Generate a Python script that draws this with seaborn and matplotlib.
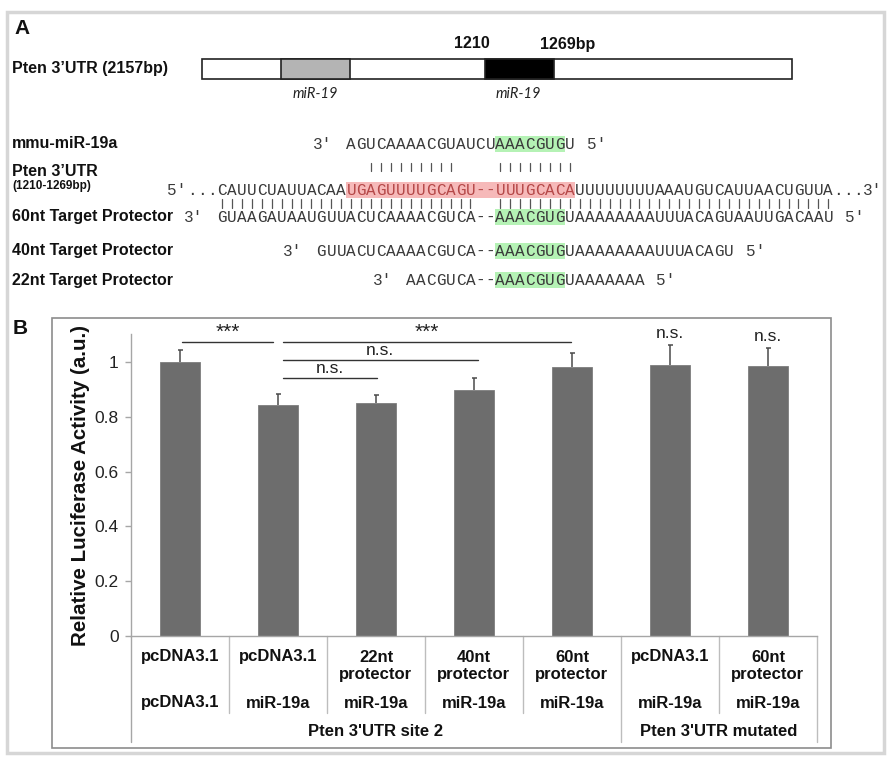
import numpy as np
import pandas as pd
import matplotlib
matplotlib.use("Agg")
import matplotlib.pyplot as plt
import matplotlib.transforms as mtransforms
from matplotlib.patches import Rectangle
import seaborn as sns

# ---------------- data ----------------
cond_ids = ["c1", "c2", "c3", "c4", "c5", "c6", "c7"]
row1_labels = ["pcDNA3.1", "pcDNA3.1", "22nt\nprotector", "40nt\nprotector",
               "60nt\nprotector", "pcDNA3.1", "60nt\nprotector"]
row2_labels = ["pcDNA3.1", "miR-19a", "miR-19a", "miR-19a", "miR-19a", "miR-19a", "miR-19a"]
group_labels = ["Pten 3'UTR site 2", "Pten 3'UTR mutated"]
group_sizes = [5, 2]
activity = [1.00, 0.844, 0.850, 0.897, 0.983, 0.989, 0.985]
activity_err = [0.045, 0.038, 0.029, 0.045, 0.051, 0.074, 0.067]
yticks = [0, 0.2, 0.4, 0.6, 0.8, 1.0]
ytick_labels = ["0", "0.2", "0.4", "0.6", "0.8", "1"]
# (from bar, to bar, label, line height)
comparisons = [(0.02, 0.95, "***", 1.074), (1.05, 3.99, "***", 1.074),
               (1.05, 3.04, "n.s.", 1.008), (1.05, 2.01, "n.s.", 0.942)]
single_marks = [(5, "n.s."), (6, "n.s.")]

# panel A
utr_label = "Pten 3\u2019UTR (2157bp)"
site_start, site_end = "1210", "1269bp"
site_name = "miR-19"
mir_name = "mmu-miR-19a"
mir_seq = "AGUCAAAACGUAUCUAAACGUGU"
pten_seq = "CAUUCUAUUACAAUGAGUUUUGCAGU--UUUGCACAUUUUUUUUAAAUGUCAUUAACUGUUA"
tp60_seq = "GUAAGAUAAUGUUACUCAAAACGUCA--AAACGUGUAAAAAAAAUUUACAGUAAUUGACAAU"
tp40_seq = "GUUACUCAAAACGUCA--AAACGUGUAAAAAAAAUUUACAGU"
tp22_seq = "AACGUCA--AAACGUGUAAAAAAA"
seed = "AAACGUG"
site_region = "UGAGUUUUGCAGU--UUUGCACA"
mir_pair_cols = list(range(15, 24)) + list(range(28, 36))
tp_pair_cols = list(range(0, 26)) + list(range(28, 62))

# ---------------- figure ----------------
sns.set_theme(style="white")
plt.rcParams["font.family"] = ["Liberation Sans", "DejaVu Sans"]

W, H = 892, 760
fig = plt.figure(figsize=(W / 100, H / 100), dpi=100)
fig.patch.set_facecolor("white")
ov = fig.add_axes([0, 0, 1, 1])
ov.set_xlim(0, W)
ov.set_ylim(H, 0)
ov.axis("off")

# frames
ov.add_patch(Rectangle((7, 12), 877, 741, fill=False, ec="#d6d6d6", lw=2.5))
ov.add_patch(Rectangle((52, 318), 779, 430, fill=False, ec="#8c8c8c", lw=1.2))
ov.text(14, 28, "A", fontsize=15, fontweight="bold", ha="left", va="center", color="#111")
ov.text(13, 328, "B", fontsize=15, fontweight="bold", ha="left", va="center", color="#111")

# ---- Panel A schematic ----
ov.text(12, 69, utr_label, fontsize=11.5, fontweight="bold", ha="left", va="center", color="#111")
ov.add_patch(Rectangle((202, 59), 590, 20, fc="white", ec="#222", lw=1.2))
ov.add_patch(Rectangle((281, 59), 69, 20, fc="#b4b4b4", ec="#222", lw=1.2))
ov.add_patch(Rectangle((485, 59), 69, 20, fc="black", ec="#222", lw=1.2))
ov.text(472, 44, site_start, fontsize=11.5, fontweight="bold", ha="center", va="center", color="#111")
ov.text(568, 44, site_end, fontsize=11.5, fontweight="bold", ha="center", va="center", color="#111")
for xc in (315, 518):
    ov.text(xc, 94, site_name, fontsize=10.5, style="italic", family=["Lato", "DejaVu Sans"],
            ha="center", va="center", color="#222")

# ---- Panel A sequences ----
X0, P = 217.0, 9.94
mono = ["Liberation Mono", "DejaVu Sans Mono"]
SEQ_C = "#3a3a3a"
SEQ_FS = 11.5


def cx(col):
    return X0 + (col + 0.5) * P


def seq_row(seq, col0, y, colors=None):
    for i, ch in enumerate(seq):
        c = SEQ_C if colors is None else colors(col0 + i)
        ov.text(cx(col0 + i), y + 5, ch, family=mono, fontsize=SEQ_FS, ha="center",
                va="baseline", color=c)


def highlight(col0, n, y, fc):
    ov.add_patch(Rectangle((X0 + col0 * P, y - 8), n * P, 16, fc=fc, ec="none", zorder=0))


labels = [(mir_name, 144, 11.5), ("Pten 3\u2019UTR", 171, 11.5), ("(1210-1269bp)", 186, 8.5),
          ("60nt Target Protector", 217, 11.5), ("40nt Target Protector", 251, 11.5),
          ("22nt Target Protector", 281, 11.5)]
for txt, y, fs in labels:
    ov.text(12, y, txt, fontsize=fs, fontweight="bold", ha="left", va="center", color="#111")

rows = [(mir_seq, 13, 144), (tp60_seq, 0, 217), (tp40_seq, 10, 251), (tp22_seq, 19, 280)]
for seq, c0, y in rows:
    s = seq.find(seed)
    highlight(c0 + s, len(seed), y, "#b5f2b5")
    seq_row(seq, c0, y)
    ov.text(X0 + c0 * P - 14, y + 5, "3\u2032", family=mono, fontsize=SEQ_FS, ha="right",
            va="baseline", color=SEQ_C)
    ov.text(X0 + (c0 + len(seq)) * P + 12, y + 5, "5\u2032", family=mono, fontsize=SEQ_FS,
            ha="left", va="baseline", color=SEQ_C)

# Pten target row
py = 190
r0 = pten_seq.find(site_region)
highlight(r0, len(site_region), py, "#f6b9b9")
seq_row(pten_seq, 0, py,
        colors=lambda c: "#b54848" if r0 <= c < r0 + len(site_region) else SEQ_C)
for k in range(3):
    ov.text(cx(-3 + k), py + 5, ".", family=mono, fontsize=SEQ_FS, ha="center", va="baseline", color=SEQ_C)
    ov.text(cx(len(pten_seq) + k), py + 5, ".", family=mono, fontsize=SEQ_FS, ha="center",
            va="baseline", color=SEQ_C)
ov.text(X0 - 3 * P - 1, py + 5, "5\u2032", family=mono, fontsize=SEQ_FS, ha="right", va="baseline", color=SEQ_C)
ov.text(X0 + (len(pten_seq) + 3) * P, py + 5, "3\u2032", family=mono, fontsize=SEQ_FS, ha="left",
        va="baseline", color=SEQ_C)

for c in mir_pair_cols:
    ov.plot([cx(c), cx(c)], [163, 171], color="#555", lw=0.9)
for c in tp_pair_cols:
    ov.plot([cx(c), cx(c)], [199, 208], color="#555", lw=0.9)

# ---- Panel B bar chart ----
AX_L, AX_R, AX_T, AX_B = 131, 817, 334, 636
PX_PER_UNIT = 274.0
ax = fig.add_axes([AX_L / W, 1 - AX_B / H, (AX_R - AX_L) / W, (AX_B - AX_T) / H])
df = pd.DataFrame({"cond": cond_ids, "act": activity})
sns.barplot(data=df, x="cond", y="act", color="#6d6d6d", saturation=1, width=0.4,
            errorbar=None, edgecolor="#7d7d7d", linewidth=0.6, ax=ax)
xs = np.arange(len(activity))
eb = ax.errorbar(xs, activity, yerr=[np.zeros(len(activity)), activity_err], fmt="none",
                 ecolor="#4a4a4a", elinewidth=1.1, capsize=1.8, capthick=1.1, zorder=3)
eb[1][0].set_visible(False)  # no cap at the bar top
ax.set_xlim(-0.5, len(activity) - 0.5)
ax.set_ylim(0, (AX_B - AX_T) / PX_PER_UNIT)
ax.set_yticks(yticks)
ax.set_yticklabels(ytick_labels)
ax.set_xticks([])
ax.set_xlabel("")
ax.set_ylabel("Relative Luciferase Activity (a.u.)", fontsize=14.8, fontweight="bold",
              color="#111", va="center")
ax.yaxis.set_label_coords((81 - AX_L) / (AX_R - AX_L), 0.5)
ax.tick_params(axis="y", length=4, width=1, color="#a6a6a6", labelsize=12.5, pad=5,
               labelcolor="#222", left=True)
for s in ("top", "right"):
    ax.spines[s].set_visible(False)
for s in ("left", "bottom"):
    ax.spines[s].set_color("#a6a6a6")
    ax.spines[s].set_linewidth(1.0)
ax.patch.set_alpha(0)

# significance
for x1, x2, lab, yl in comparisons:
    ax.plot([x1, x2], [yl, yl], color="#333", lw=1.0, clip_on=False)
    big = lab == "***"
    ax.text((x1 + x2) / 2, yl + (0.0 if big else 0.006), lab, ha="center", va="bottom",
            fontsize=15 if big else 12.5, color="#222", clip_on=False)
for xi, lab in single_marks:
    ax.text(xi, activity[xi] + activity_err[xi] + 0.012, lab, ha="center", va="bottom",
            fontsize=12.5, color="#222", clip_on=False)

# category table below axis (x in data, y in pixels)
bt = mtransforms.blended_transform_factory(ax.transData, ov.transData)
group_edges = np.cumsum([0] + group_sizes)
for k in range(len(activity) + 1):
    bottom = 742 if k in group_edges else 713
    col = "#a6a6a6" if k == 0 else "#bdbdbd"
    ov.plot([k - 0.5, k - 0.5], [AX_B, bottom], color=col, lw=1.0, transform=bt, clip_on=False)

for i, (l1, l2) in enumerate(zip(row1_labels, row2_labels)):
    for j, part in enumerate(l1.split("\n")):
        ov.text(i, 657 + 18 * j, part, transform=bt, ha="center", va="center",
                fontsize=12, fontweight="bold", color="#111")
    ov.text(i, 703, l2, transform=bt, ha="center", va="center", fontsize=12,
            fontweight="bold", color="#111")
for g, lab in enumerate(group_labels):
    a, b = group_edges[g], group_edges[g + 1]
    ov.text((a + b - 1) / 2, 732, lab, transform=bt, ha="center", va="center",
            fontsize=12, fontweight="bold", color="#111")

fig.savefig("out.png", dpi=100, facecolor="white")
